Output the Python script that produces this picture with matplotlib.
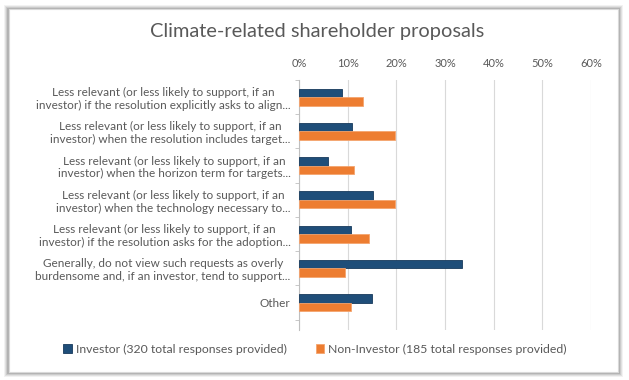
import numpy as np
import matplotlib.pyplot as plt
from matplotlib.patches import Rectangle

plt.rcParams['font.family'] = ['Lato', 'DejaVu Sans']

categories = [
    "Less relevant (or less likely to support, if an\ninvestor) if the resolution explicitly asks to align...",
    "Less relevant (or less likely to support, if an\ninvestor) when the resolution includes target...",
    "Less relevant (or less likely to support, if an\ninvestor) when the horizon term for targets...",
    "Less relevant (or less likely to support, if an\ninvestor) when the technology necessary to...",
    "Less relevant (or less likely to support, if an\ninvestor) if the resolution asks for the adoption...",
    "Generally, do not view such requests as overly\nburdensome and, if an investor, tend to support...",
    "Other",
]
investor = [8.8, 10.9, 6.0, 15.3, 10.7, 33.4, 15.1]
non_investor = [13.2, 19.8, 11.2, 19.8, 14.4, 9.5, 10.7]
x_ticks = [0, 10, 20, 30, 40, 50, 60]

text_col = '#595959'
blue = '#1F4E79'
orange = '#ED7D31'

fig = plt.figure(figsize=(6.29, 3.8), dpi=100)
fig.patch.set_facecolor('white')

# frame with soft shadow, like the source screenshot
W, H = 629, 380
for i, a in enumerate([0.05, 0.07, 0.09, 0.12]):
    d = 4 - i
    fig.patches.append(Rectangle(((8 - d) / W, (8 - d - 1) / H), (611 + 2 * d) / W, (364 + 2 * d) / H,
                                 transform=fig.transFigure, facecolor='black', alpha=a,
                                 edgecolor='none', zorder=0))
fig.patches.append(Rectangle((9 / W, 8 / H), 609 / W, 363 / H, transform=fig.transFigure,
                             facecolor='white', edgecolor='#d9d9d9', lw=0.8, zorder=1))

ax = fig.add_axes([299 / W, 1 - 330 / H, (591 - 299) / W, (330 - 80) / H])
ax.set_zorder(2)
ax.patch.set_alpha(0)

y = np.arange(len(categories))
h = 0.25
ax.barh(y - h / 2, investor, height=h, color=blue, edgecolor='#173a5c', lw=0.6,
        label='Investor (320 total responses provided)', zorder=3)
ax.barh(y + h / 2, non_investor, height=h, color=orange, edgecolor='#f4a46e', lw=0.6,
        label='Non-Investor (185 total responses provided)', zorder=3)

ax.set_xlim(0, 60)
ax.set_ylim(len(categories) - 0.2, -0.5)
ax.set_xticks(x_ticks)
ax.set_xticklabels([f'{t}%' for t in x_ticks])
ax.xaxis.tick_top()
ax.tick_params(axis='x', length=0, labelsize=8, colors=text_col, pad=8)
ax.grid(axis='x', color='#d9d9d9', lw=0.8, zorder=0)

ax.set_yticks(y)
ax.set_yticklabels(categories, fontsize=8.5, color=text_col, multialignment='center')
ax.tick_params(axis='y', length=0, pad=6)
ax.set_yticks(np.arange(len(categories) + 1) - 0.5, minor=True)
ax.tick_params(axis='y', which='minor', length=3, color='#bfbfbf')

for s in ['top', 'right', 'bottom']:
    ax.spines[s].set_visible(False)
ax.spines['left'].set_color('#bfbfbf')
ax.spines['left'].set_linewidth(0.8)

fig.text(317 / W, 1 - 31 / H, 'Climate-related shareholder proposals', ha='center', va='center',
         fontsize=14.4, color=text_col, zorder=3)

fig.legend(loc='center', bbox_to_anchor=(315 / W, 1 - 349 / H), ncol=2, frameon=False,
           fontsize=8.8, handlelength=0.7, handleheight=0.7, handletextpad=0.3,
           columnspacing=2.4, labelcolor=text_col)

fig.savefig('out.png', dpi=100)
